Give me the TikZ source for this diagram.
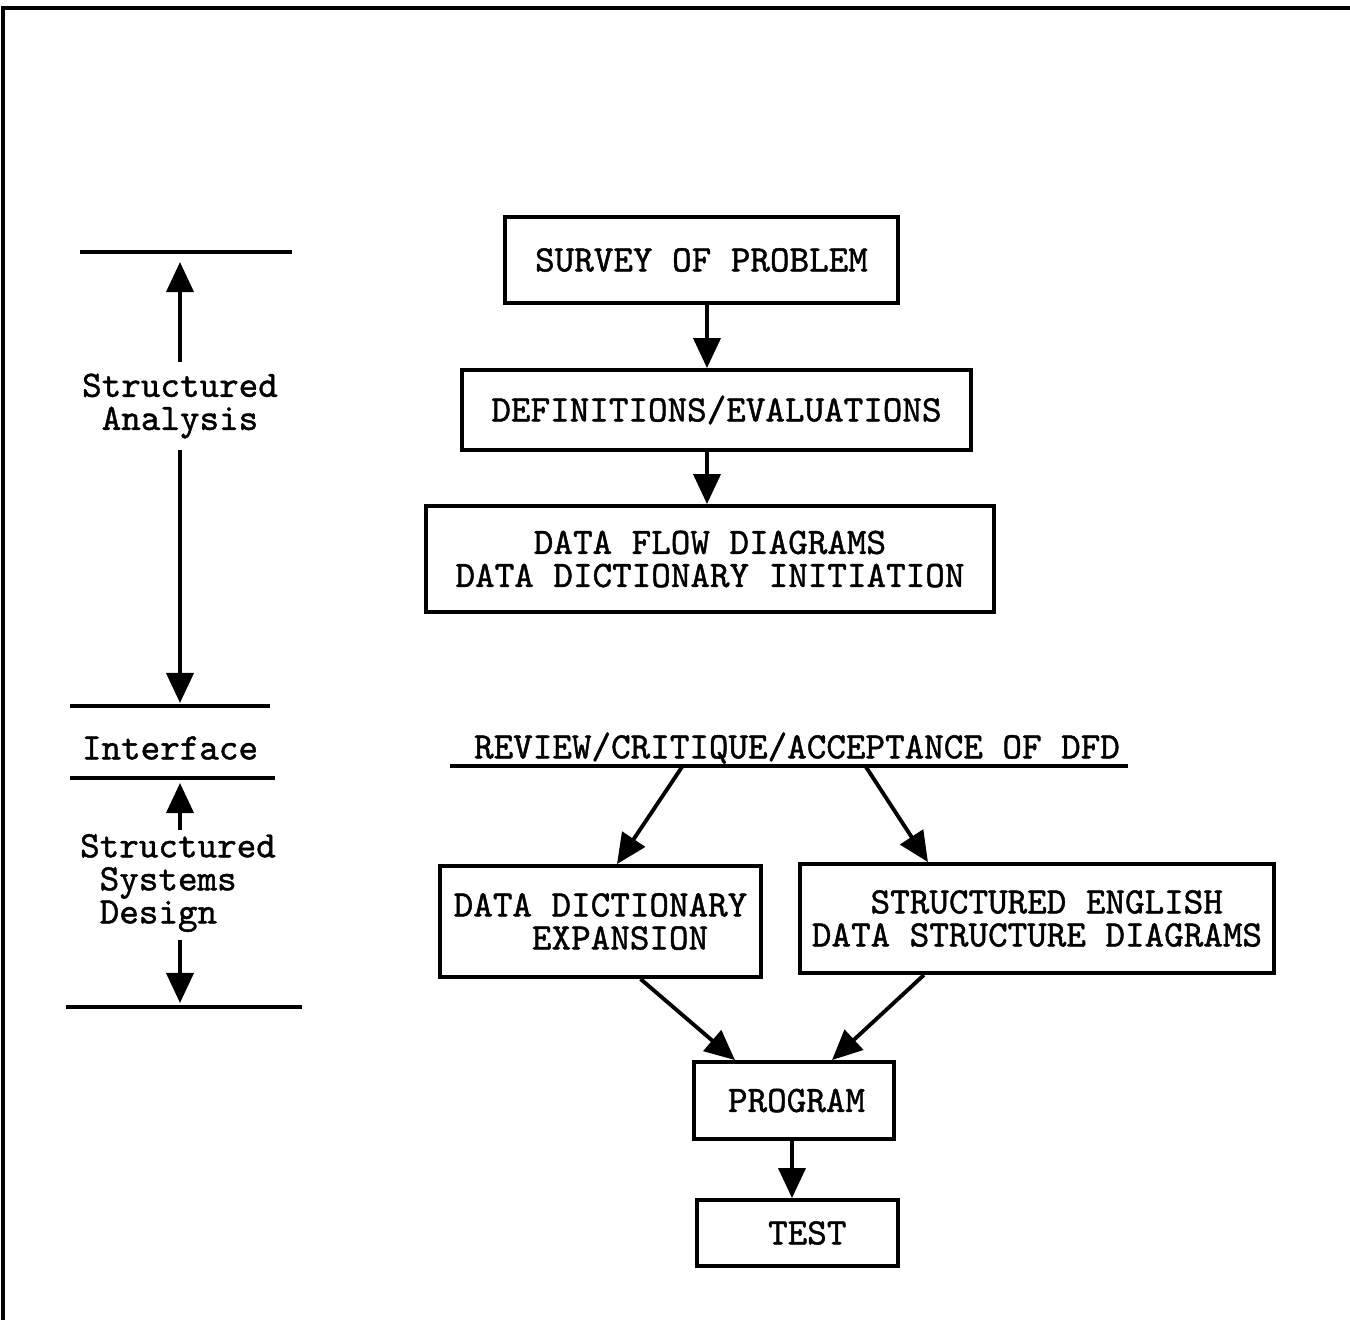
\documentclass[tikz,border=0pt]{standalone}
\usepackage{fontspec}
\setmonofont[FakeBold=1.2]{Latin Modern Mono}
\usetikzlibrary{arrows.meta}
\newcommand{\typed}{\ttfamily\fontsize{10.6}{9.4}\selectfont\lineskiplimit=-6pt}
\tikzset{
	stagebox/.style={draw, line width=1.1pt, inner sep=0pt, align=center},
	flowarrow/.style={line width=1.1pt, -{Triangle[width=0.27cm,length=0.30cm]}},
	phaserule/.style={line width=1.3pt},
	phaselabel/.style={inner sep=1pt}
}

\begin{document}
\begin{tikzpicture}[x=0.01cm, y=-0.01cm, font=\typed]
	\useasboundingbox (0,0) rectangle (1350,1320);
	\draw[phaserule] (3,1320) -- (3,8) -- (1350,8);

	\draw[phaserule] (80,252) -- (292,252);
	\draw[phaserule] (70,706) -- (270,706);
	\draw[phaserule] (70,778) -- (275,778);
	\draw[phaserule] (66,1007) -- (302,1007);

	\node[phaselabel, align=center] (sa) at (180,406) {Structured\\Analysis};
	\coordinate (sa top) at (180,262);
	\coordinate (sa bot) at (180,703);
	\draw[flowarrow] ([yshift=2pt]sa.north) -- (sa top);
	\draw[flowarrow] ([yshift=-2pt]sa.south) -- (sa bot);

	\node[phaselabel] (itf) at (170,748) {Interface};

	\node[phaselabel, align=left] (ssd) at (178,883) {Structured\\\phantom{S}Systems\\\phantom{S}Design};
	\coordinate (ssd top) at (180,783);
	\coordinate (ssd bot) at (180,1003);
	\draw[flowarrow] (ssd.north -| ssd top) -- (ssd top);
	\draw[flowarrow] ([yshift=-1pt]ssd.south -| ssd bot) -- (ssd bot);

	\node[stagebox, minimum width=3.93cm, minimum height=0.86cm] (survey) at (701.5,260) {SURVEY OF PROBLEM};
	\node[stagebox, minimum width=5.09cm, minimum height=0.80cm] (defs) at (716.5,410) {DEFINITIONS/EVALUATIONS};
	\node[stagebox, minimum width=5.68cm, minimum height=1.06cm] (dfd) at (710,559) {DATA FLOW DIAGRAMS\\DATA DICTIONARY INITIATION};
	\draw[flowarrow] ([xshift=0.055cm]survey.south) -- ([xshift=-0.095cm]defs.north);
	\draw[flowarrow] ([xshift=-0.095cm]defs.south) -- ([xshift=-0.03cm]dfd.north);

	\node[phaselabel] (review) at (797,748) {REVIEW/CRITIQUE/ACCEPTANCE OF DFD};
	\coordinate (rv left) at (450,766);
	\coordinate (rv right) at (1128,766);
	\coordinate (rv a) at (682,767);
	\coordinate (rv b) at (866,767);
	\draw[phaserule] (rv left) -- (rv right);

	\node[stagebox, align=left, minimum width=3.21cm, minimum height=1.11cm] (ddx) at (600.5,921.5) {DATA DICTIONARY\\\phantom{DATA}EXPANSION};
	\node[stagebox, align=left, minimum width=4.74cm, minimum height=1.09cm] (seng) at (1037,918.5) {\phantom{DAT}STRUCTURED ENGLISH\\DATA STRUCTURE DIAGRAMS};
	\draw[flowarrow] (rv a) -- ([xshift=0.165cm]ddx.north);
	\draw[flowarrow] (rv b) -- ([xshift=-1.09cm]seng.north);

	\node[stagebox, minimum width=2.00cm, minimum height=0.77cm] (prog) at (794,1100.5) {\hspace{0.05cm}PROGRAM};
	\node[stagebox, minimum width=2.01cm, minimum height=0.66cm] (test) at (797.5,1233) {\phantom{T}TEST};
	\draw[flowarrow] ([xshift=0.40cm]ddx.south) -- ([xshift=-0.59cm]prog.north);
	\draw[flowarrow] ([xshift=-1.13cm]seng.south) -- ([xshift=0.38cm]prog.north);
	\draw[flowarrow] ([xshift=-0.02cm]prog.south) -- ([xshift=-0.055cm]test.north);
\end{tikzpicture}
\end{document}
